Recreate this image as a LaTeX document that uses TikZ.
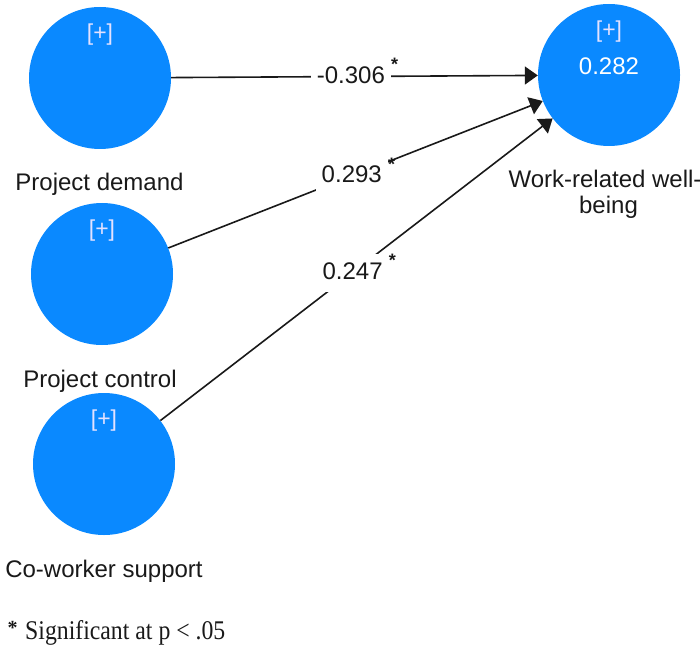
\documentclass[tikz,border=0pt]{standalone}
\usepackage{graphicx}
\usepackage{fontspec}
\setmainfont{Liberation Sans}
\newfontfamily\footserif{Liberation Serif}
\usetikzlibrary{arrows.meta}
\definecolor{lvblue}{RGB}{10,137,255}
\definecolor{plustext}{RGB}{228,226,255}
\definecolor{ink}{RGB}{25,25,25}
\begin{document}
\begin{tikzpicture}[x=1pt,y=-1pt,
  latent/.style={circle, fill=lvblue, draw=none, minimum size=142pt, inner sep=0pt},
  plus/.style={text=plustext, inner sep=0pt, font=\fontsize{23}{23}\selectfont},
  rsq/.style={text=white, inner sep=0pt, font=\fontsize{24}{24}\selectfont},
  caption/.style={text=ink, anchor=base, inner sep=0pt, font=\fontsize{24}{25}\selectfont},
  pathline/.style={draw=ink, line width=1.6pt, -{Triangle[length=13pt,width=18pt]}},
  coef/.style={fill=white, text=ink, font=\fontsize{24}{24}\selectfont,
    inner xsep=6pt, inner ysep=6pt, text height=20pt, text depth=6pt},
  sigstar/.style={text=ink, inner sep=0pt, font=\bfseries\fontsize{18}{18}\selectfont}
]
\useasboundingbox (0,0) rectangle (700,644);

% latent variables
\node[latent] (pd) at (100,78) {};
\node[latent] (pc) at (102,274) {};
\node[latent] (cs) at (104,464) {};
\node[latent] (wb) at (609,75) {};

% expand markers and R-squared
\node[plus] (pdp) at (100,35) {[+]};
\node[plus] (pcp) at (102,231) {[+]};
\node[plus] (csp) at (104,421) {[+]};
\node[plus] (wbp) at (609,32) {[+]};
\node[rsq] (wbr) at (609,66) {0.282};

% variable names
\node[caption] (pdl) at (99.5,191) {Project demand};
\node[caption] (pcl) at (100,387) {Project control};
\node[caption] (csl) at (104,577) {Co-worker support};
\node[caption] (wbl1) at (605,188) {Work-related well-};
\node[caption] (wbl2) at (608.5,213) {being};

% structural paths with coefficients
\draw[pathline] (pd) -- node[coef, pos=0.49] (c1) {-0.306} (wb);
\draw[pathline] (pc) -- node[coef, pos=0.49] (c2) {0.293} (wb);
\draw[pathline] (cs) -- node[coef, pos=0.49] (c3) {0.247} (wb);

\node[sigstar] (s1) at ([xshift=3pt,yshift=19pt]c1.base east) {*};
\node[sigstar] (s2) at ([xshift=3pt,yshift=19pt]c2.base east) {*};
\node[sigstar] (s3) at ([xshift=3pt,yshift=19pt]c3.base east) {*};

% footnote
\node[text=ink, inner sep=0pt, font=\footserif\bfseries\fontsize{20}{20}\selectfont] (fns) at (12.5,628) {*};
\node[anchor=base west, text=ink, inner sep=0pt, font=\footserif\fontsize{27}{27}\selectfont] (fn) at (25,639)
  {\scalebox{0.88}[1]{Significant at p < .05}};
\end{tikzpicture}
\end{document}
